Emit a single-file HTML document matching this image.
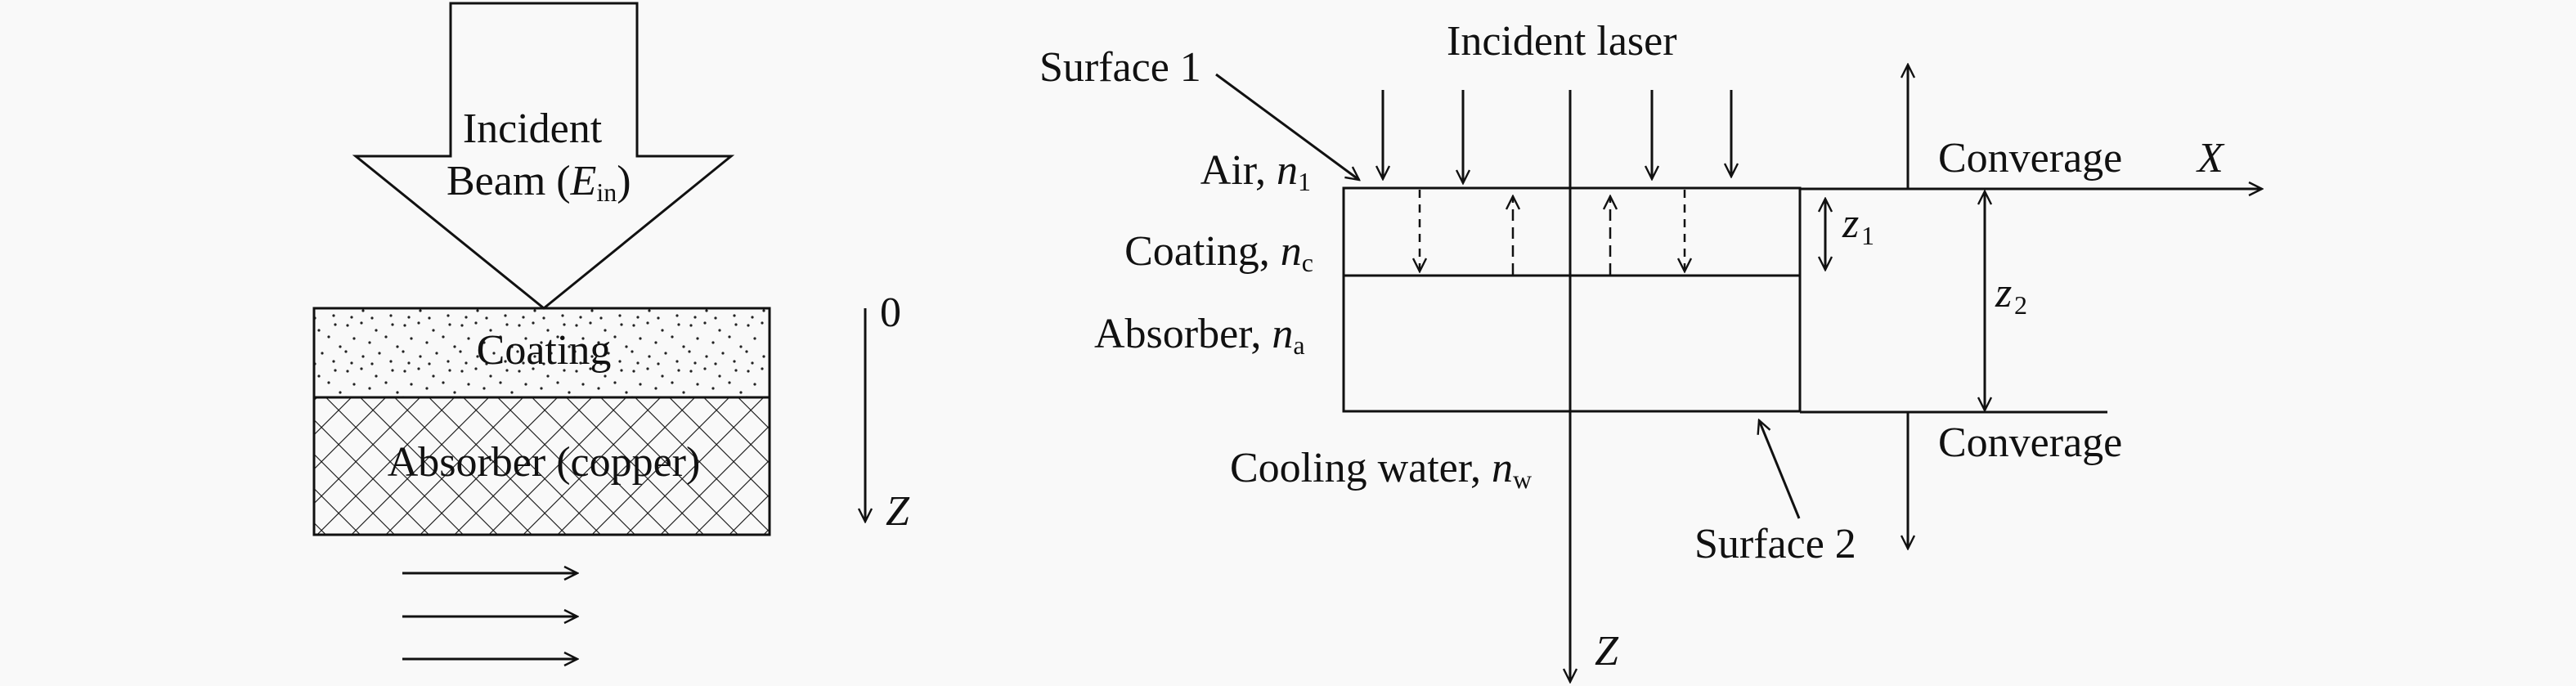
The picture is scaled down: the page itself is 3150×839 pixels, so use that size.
<!DOCTYPE html>
<html><head><meta charset="utf-8"><style>
html,body{margin:0;padding:0;background:#f9f9f9;}
svg{display:block;}
text{font-family:"Liberation Serif",serif;font-size:52px;fill:#111;}
.i{font-style:italic;}
.s{font-size:32px;}
</style></head><body>
<svg width="3150" height="839" viewBox="0 0 3150 839" xmlns="http://www.w3.org/2000/svg">
<defs>
<pattern id="dots" width="70" height="56" patternUnits="userSpaceOnUse">
<g fill="#222">
<circle cx="5" cy="6" r="1.6"/><circle cx="22" cy="3" r="1.6"/><circle cx="40" cy="12" r="1.6"/><circle cx="60" cy="5" r="1.6"/>
<circle cx="13" cy="22" r="1.6"/><circle cx="32" cy="27" r="1.6"/><circle cx="52" cy="20" r="1.6"/><circle cx="66" cy="32" r="1.6"/>
<circle cx="3" cy="38" r="1.6"/><circle cx="24" cy="44" r="1.6"/><circle cx="44" cy="40" r="1.6"/><circle cx="58" cy="50" r="1.6"/>
<circle cx="10" cy="52" r="1.6"/><circle cx="35" cy="53" r="1.6"/>
</g></pattern>
<pattern id="hatch" width="29.7" height="29.7" patternUnits="userSpaceOnUse" patternTransform="rotate(45 384 486)">
<path d="M0 0H29.7M0 0V29.7" stroke="#111" stroke-width="2.2" fill="none"/>
</pattern>
<marker id="ah" viewBox="0 0 20 20" refX="18" refY="10" markerWidth="20" markerHeight="20" markerUnits="userSpaceOnUse" orient="auto-start-reverse">
<path d="M2 2L18 10L2 18" fill="none" stroke="#111" stroke-width="2.4"/>
</marker>
</defs>
<g stroke="#111" stroke-width="3" fill="none">
<!-- left beam arrow -->
<path d="M551 4H779V191H894L665 377L435 191H551Z" fill="#f9f9f9"/>
<rect x="384" y="377" width="557" height="109" fill="url(#dots)"/>
<rect x="384" y="486" width="557" height="168" fill="url(#hatch)"/>
<rect x="384" y="377" width="557" height="277"/>
<line x1="384" y1="486" x2="941" y2="486"/>
<line x1="1058" y1="377" x2="1058" y2="638" marker-end="url(#ah)"/>
<line x1="492" y1="701" x2="706" y2="701" marker-end="url(#ah)"/>
<line x1="492" y1="754" x2="706" y2="754" marker-end="url(#ah)"/>
<line x1="492" y1="806" x2="706" y2="806" marker-end="url(#ah)"/>
<!-- right diagram -->
<rect x="1643" y="230" width="558" height="273"/>
<line x1="1643" y1="337" x2="2201" y2="337"/>
<line x1="1920" y1="110" x2="1920" y2="834" marker-end="url(#ah)"/>
<line x1="1691" y1="110" x2="1691" y2="219" marker-end="url(#ah)"/>
<line x1="1789" y1="110" x2="1789" y2="224" marker-end="url(#ah)"/>
<line x1="2020" y1="110" x2="2020" y2="219" marker-end="url(#ah)"/>
<line x1="2117" y1="110" x2="2117" y2="216" marker-end="url(#ah)"/>
<line x1="1736" y1="232" x2="1736" y2="332" stroke-dasharray="10 8" stroke-width="2.5" marker-end="url(#ah)"/>
<line x1="1850" y1="336" x2="1850" y2="240" stroke-dasharray="14 8" stroke-width="2.5" marker-end="url(#ah)"/>
<line x1="1969" y1="336" x2="1969" y2="240" stroke-dasharray="14 8" stroke-width="2.5" marker-end="url(#ah)"/>
<line x1="2060" y1="232" x2="2060" y2="332" stroke-dasharray="10 8" stroke-width="2.5" marker-end="url(#ah)"/>
<line x1="1487" y1="91" x2="1662" y2="220" marker-end="url(#ah)"/>
<line x1="2200" y1="634" x2="2151" y2="514" marker-end="url(#ah)"/>
<line x1="2201" y1="231" x2="2766" y2="231" marker-end="url(#ah)"/>
<line x1="2201" y1="504" x2="2577" y2="504"/>
<line x1="2333" y1="231" x2="2333" y2="79" marker-end="url(#ah)"/>
<line x1="2333" y1="504" x2="2333" y2="671" marker-end="url(#ah)"/>
<line x1="2232" y1="243" x2="2232" y2="330" marker-start="url(#ah)" marker-end="url(#ah)"/>
<line x1="2427" y1="234" x2="2427" y2="502" marker-start="url(#ah)" marker-end="url(#ah)"/>
</g>
<!-- left text -->
<text x="651" y="174" text-anchor="middle">Incident</text>
<text x="546" y="238">Beam (<tspan class="i">E</tspan><tspan class="s" dy="8">in</tspan><tspan dy="-8">)</tspan></text>
<text x="665" y="445" text-anchor="middle">Coating</text>
<text x="665" y="582" text-anchor="middle">Absorber (copper)</text>
<text x="1076" y="399">0</text>
<text x="1083" y="642" class="i">Z</text>
<!-- right text -->
<text x="1769" y="67">Incident laser</text>
<text x="1271" y="99">Surface 1</text>
<text x="1603" y="225" text-anchor="end">Air, <tspan class="i">n</tspan><tspan class="s" dy="8">1</tspan></text>
<text x="1606" y="324" text-anchor="end">Coating, <tspan class="i">n</tspan><tspan class="s" dy="8">c</tspan></text>
<text x="1338" y="425">Absorber, <tspan class="i">n</tspan><tspan class="s" dy="8">a</tspan></text>
<text x="1504" y="589">Cooling water, <tspan class="i">n</tspan><tspan class="s" dy="8">w</tspan></text>
<text x="2072" y="682">Surface 2</text>
<text x="2253" y="290" class="i">z</text><text x="2276" y="299" class="s">1</text>
<text x="2440" y="375" class="i">z</text><text x="2463" y="384" class="s">2</text>
<text x="2370" y="210">Converage</text>
<text x="2370" y="558">Converage</text>
<text x="2687" y="210" class="i">X</text>
<text x="1950" y="813" class="i">Z</text>
</svg>
</body></html>
